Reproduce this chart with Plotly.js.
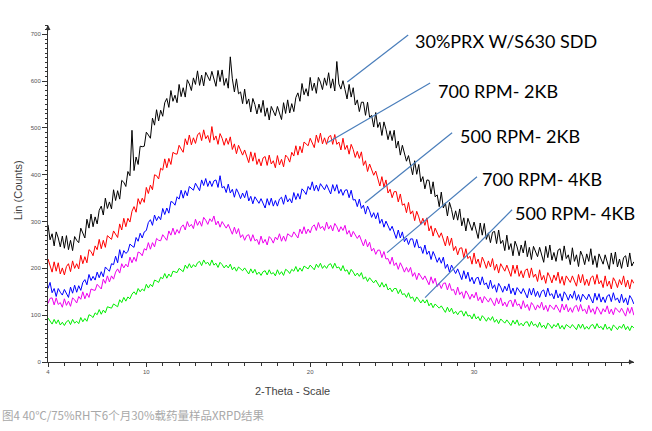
<!DOCTYPE html>
<html>
<head>
<meta charset="utf-8">
<script src="https://cdn.plot.ly/plotly-3.0.1.min.js"></script>
<style>html,body{margin:0;padding:0;background:#fff;}#chart{width:652px;height:431px;}</style>
</head>
<body>
<div id="chart"></div>
<script>
// 2-Theta scan: start 4°, step 0.125°
const scanStart = 4;
const scanStep = 0.125;

const seriesNames = ["30%PRX W/S630 SDD", "700 RPM- 2KB", "500 RPM- 2KB", "700 RPM- 4KB", "500 RPM- 4KB"];

// one row per degree (4° ... 39°), 8 readings per degree
const sddCounts = [
293,261,274,248,278,265,246,269,
243,270,240,260,238,268,260,255,
286,276,265,305,286,316,289,310,
295,324,333,314,350,328,342,327,
368,345,366,348,388,384,375,407,
398,495,409,438,422,461,460,461,
491,485,478,521,506,539,515,538,
525,554,563,544,580,557,570,554,
593,567,586,566,603,594,580,607,
593,622,591,613,590,619,609,601,
621,606,589,623,599,624,591,606,
585,652,605,577,605,573,577,552,
583,551,562,534,563,550,530,551,
533,559,525,543,517,546,535,526,
546,532,518,554,531,560,532,552,
535,565,575,557,595,571,584,568,
608,580,596,574,608,598,582,607,
591,618,585,605,579,642,594,583,
601,582,562,593,566,586,549,560,
535,555,555,527,555,523,527,502,
533,501,512,484,513,497,475,494,
473,495,457,472,442,463,445,429,
441,421,400,430,401,422,385,396,
370,389,388,359,385,353,357,332,
363,329,340,312,341,326,304,323,
303,327,291,308,280,307,293,281,
299,282,264,297,271,296,262,276,
255,277,279,253,282,253,260,238,
271,240,253,227,258,246,227,250,
233,259,225,245,219,247,235,225,
245,230,213,247,223,250,218,234,
215,239,242,217,248,221,229,208,
244,215,229,204,237,226,208,231,
215,242,208,227,202,231,219,209,
229,214,198,233,209,235,203,220,
200,223,227,203,233,205,214];

const rpm700kb2Counts = [
220,206,192,214,194,212,188,201,
186,204,210,193,216,200,210,199,
228,210,225,212,240,236,227,248,
240,262,242,260,245,270,265,262,
280,273,266,295,282,307,289,307,
299,322,332,320,349,337,350,341,
373,360,378,368,400,398,391,414,
410,434,415,435,422,448,445,444,
463,455,448,477,464,485,464,479,
467,485,490,473,496,477,484,469,
503,474,483,465,488,478,463,478,
465,481,454,466,445,463,452,442,
453,439,426,449,429,447,422,434,
419,436,439,420,442,423,430,415,
441,421,433,417,442,437,427,448,
440,462,442,461,447,470,465,462,
478,468,458,485,469,489,466,479,
465,481,484,465,486,465,470,453,
478,454,463,444,465,454,437,450,
435,449,420,430,407,423,410,399,
408,392,376,396,374,389,361,369,
351,364,364,342,359,335,338,319,
341,316,323,302,322,310,294,307,
292,308,280,291,269,286,275,266,
276,262,248,269,249,265,238,247,
229,243,244,223,242,221,226,209,
233,210,220,202,224,214,200,216,
203,221,196,209,190,210,201,194,
207,195,183,207,189,207,183,195,
180,196,199,180,201,181,188,172,
197,175,185,168,191,182,169,186,
174,192,168,183,164,184,176,170,
184,173,162,187,169,187,164,177,
163,180,184,166,187,167,174,159,
184,162,173,156,180,172,159,176,
165,184,160,175,156,176,168];

const rpm500kb2Counts = [
157,170,148,157,140,157,149,143,
155,146,138,160,147,164,149,163,
153,170,176,165,187,174,183,175,
192,180,193,182,203,198,194,210,
208,226,212,240,222,238,232,236,
252,248,245,266,258,275,265,278,
281,298,304,292,314,302,311,304,
328,315,329,318,343,341,335,353,
348,367,350,366,355,375,370,367,
382,373,366,389,377,392,375,387,
375,387,389,373,398,372,375,362,
380,361,369,352,370,361,349,361,
351,366,344,354,338,353,345,339,
349,339,329,349,335,350,333,345,
333,348,352,337,357,342,349,340,
362,347,360,348,370,365,358,375,
368,385,366,378,365,381,374,368,
379,369,359,379,365,379,360,369,
356,367,368,351,367,346,347,332,
348,328,335,316,333,323,309,319,
306,319,296,305,288,301,290,281,
290,277,264,282,265,278,257,265,
251,263,263,245,262,244,246,232,
250,230,237,219,236,226,213,223,
211,224,200,209,192,207,197,189,
199,187,176,195,178,192,172,181,
167,179,181,165,182,165,169,156,
175,157,165,149,168,160,149,162,
152,167,146,158,143,159,152,146,
157,147,137,157,143,158,140,151,
138,151,154,139,158,142,146,135,
154,137,146,130,150,143,132,145,
136,152,132,144,129,145,138,133,
145,135,126,147,132,146,128,139,
127,141,144,129,148,132,137,126,
145,127,137,122,142,135,124];

const rpm700kb4Counts = [
125,136,137,122,137,123,127,117,
135,121,130,119,137,133,126,140,
134,150,135,147,138,156,154,153,
166,161,156,177,168,184,171,184,
177,192,199,190,210,201,209,203,
224,212,224,215,235,233,227,242,
239,255,241,255,246,264,260,259,
272,266,260,280,271,286,272,283,
275,288,293,282,300,289,294,285,
305,292,301,290,309,303,294,306,
300,312,293,301,288,300,292,286,
294,284,273,288,274,285,266,272,
260,270,272,258,272,259,262,251,
269,254,262,250,268,263,254,267,
261,274,258,269,258,274,270,267,
278,272,265,284,274,289,274,284,
276,289,293,281,298,285,290,281,
299,284,292,280,296,289,278,289,
281,292,273,281,267,279,270,264,
271,260,248,262,246,256,237,243,
230,239,239,223,236,220,221,209,
224,206,212,198,212,203,192,202,
192,202,183,191,176,190,182,176,
184,174,165,182,168,179,161,168,
157,168,169,154,168,153,155,143,
160,144,150,136,152,145,134,145,
137,149,131,139,126,140,133,128,
137,128,120,137,124,137,120,128,
118,130,132,118,134,121,124,113,
131,116,123,110,127,121,111,122,
115,128,111,121,108,122,116,112,
122,114,106,124,111,123,107,116,
106,118,121,108,123,109,113,103,
121,106,114,102,118,111,102,114,
107,120,103,113,101,116,110,106,
115,106,98,116,104,117,100];

const rpm500kb4Counts = [
94,88,81,91,82,90,79,85,
78,86,89,80,91,83,87,82,
95,86,93,87,101,99,95,105,
101,112,102,111,105,118,116,115,
124,121,118,133,127,138,130,139,
135,145,150,144,157,150,156,152,
166,158,166,161,175,173,170,181,
178,189,179,188,182,194,192,191,
200,197,193,207,200,210,201,208,
203,212,215,206,218,210,213,206,
218,207,211,202,213,208,201,207,
201,209,197,203,194,203,198,195,
201,195,188,199,190,198,187,192,
185,193,195,186,197,188,191,184,
197,187,193,185,198,195,189,198,
194,204,193,201,194,205,202,199,
207,202,197,209,202,211,200,206,
200,208,210,200,211,201,203,195,
206,194,197,187,198,192,184,190,
183,191,177,182,172,180,174,169,
175,168,160,170,160,167,154,158,
150,157,157,146,155,144,146,138,
148,136,139,129,139,133,126,133,
126,133,120,126,116,124,119,115,
120,113,106,117,107,115,103,108,
101,108,109,98,108,98,100,92,
103,92,97,88,99,94,87,95,
89,97,85,91,82,92,87,83,
90,85,78,89,81,90,78,83,
77,85,86,76,87,78,81,74,
85,74,79,71,83,79,72,80,
75,83,71,78,70,80,76,73,
80,75,69,81,72,81,70,76,
70,78,80,71,82,73,76,69,
81,70,75,67,79,75,69,77,
72,81,69,76,67,77,73];

const allCounts = [sddCounts, rpm700kb2Counts, rpm500kb2Counts, rpm700kb4Counts, rpm500kb4Counts];
const seriesColors = ["#000000", "#ff0000", "#0000ff", "#ee00ee", "#00ee00"];

const yTickVals = [0, 100, 200, 300, 400, 500, 600, 700];
const xTickVals = [4, 10, 20, 30];
const xTickText = ["4", "10", "20", "30"];

const captionText = "图4 40℃/75%RH下6个月30%载药量样品XRPD结果";
const xTitleText = "2-Theta - Scale";
const yTitleText = "Lin (Counts)";

const traces = allCounts.map((vals, k) => ({
  type: "scatter",
  mode: "lines",
  name: seriesNames[k],
  x: vals.map((_, i) => scanStart + i * scanStep),
  y: vals,
  line: {color: seriesColors[k], width: 1},
  hoverinfo: "skip"
}));

// leader lines (data coords) and label anchor positions
const leaders = [
  {x0: 25.98, y0: 698.7, x1: 22.26, y1: 598.4, tx: 26.28, ty: 685.9},
  {x0: 27.32, y0: 596.3, x1: 21.04, y1: 468.3, tx: 27.68, ty: 579.2},
  {x0: 28.66, y0: 489.6, x1: 23.35, y1: 340.3, tx: 29.02, ty: 482.1},
  {x0: 30.18, y0: 395.7, x1: 24.69, y1: 233.6, tx: 30.37, ty: 390.4},
  {x0: 32.32, y0: 325.3, x1: 27.01, y1: 137.6, tx: 32.38, ty: 318.9}
];

const shapes = leaders.map(l => ({
  type: "line", xref: "x", yref: "y",
  x0: l.x0, y0: l.y0, x1: l.x1, y1: l.y1,
  line: {color: "#4a7ebb", width: 1.2}
}));

const annotations = leaders.map((l, k) => ({
  xref: "x", yref: "y", x: l.tx, y: l.ty,
  text: seriesNames[k], showarrow: false,
  xanchor: "left", yanchor: "middle",
  font: {family: "Lato, 'Open Sans', sans-serif", size: 18, color: "#000"}
}));

annotations.push(
  {xref: "paper", yref: "paper", x: 0.4168, y: -0.0874, text: xTitleText, showarrow: false,
   xanchor: "center", yanchor: "middle", font: {family: "Liberation Sans, Arial, sans-serif", size: 11, color: "#444"}},
  {xref: "paper", yref: "paper", x: -0.0522, y: 0.511, text: yTitleText, showarrow: false, textangle: -90,
   xanchor: "center", yanchor: "middle", font: {family: "Liberation Sans, Arial, sans-serif", size: 11, color: "#444"}},
  {xref: "paper", yref: "paper", x: -0.0812, y: -0.1585, text: captionText, showarrow: false,
   xanchor: "left", yanchor: "middle", font: {family: "'Noto Sans CJK SC', sans-serif", size: 11.5, color: "#a8a8a8"}},
  {xref: "paper", yref: "paper", x: 1, y: 0, ax: -7, ay: 0, text: "", showarrow: true,
   arrowhead: 2, arrowsize: 1, arrowwidth: 1, arrowcolor: "#333"},
  {xref: "paper", yref: "paper", x: 0, y: 1, ax: 0, ay: 7, text: "", showarrow: true,
   arrowhead: 2, arrowsize: 1, arrowwidth: 1, arrowcolor: "#333"}
);

const layout = {
  width: 652, height: 431,
  margin: {l: 47.6, r: 18, t: 25, b: 68.5},
  paper_bgcolor: "#fff", plot_bgcolor: "#fff",
  showlegend: false,
  xaxis: {
    range: [4, 39.76], showgrid: false, zeroline: false,
    showline: true, linecolor: "#333", linewidth: 1,
    ticks: "outside", ticklen: 4, tickcolor: "#333",
    tickmode: "array", tickvals: xTickVals, ticktext: xTickText,
    tickfont: {family: "Liberation Sans, Arial, sans-serif", size: 6, color: "#555"},
    minor: {dtick: 1, tick0: 4, ticks: "outside", ticklen: 3, tickcolor: "#333"}
  },
  yaxis: {
    range: [0, 720], showgrid: false, zeroline: false,
    showline: true, linecolor: "#333", linewidth: 1,
    ticks: "outside", ticklen: 5, tickcolor: "#333",
    tickmode: "array", tickvals: yTickVals,
    tickfont: {family: "Liberation Sans, Arial, sans-serif", size: 6, color: "#555"},
    minor: {dtick: 10, ticks: "outside", ticklen: 2.5, tickcolor: "#333"}
  },
  shapes: shapes,
  annotations: annotations
};

Plotly.newPlot("chart", traces, layout, {displayModeBar: false, staticPlot: true});
</script>
</body>
</html>
